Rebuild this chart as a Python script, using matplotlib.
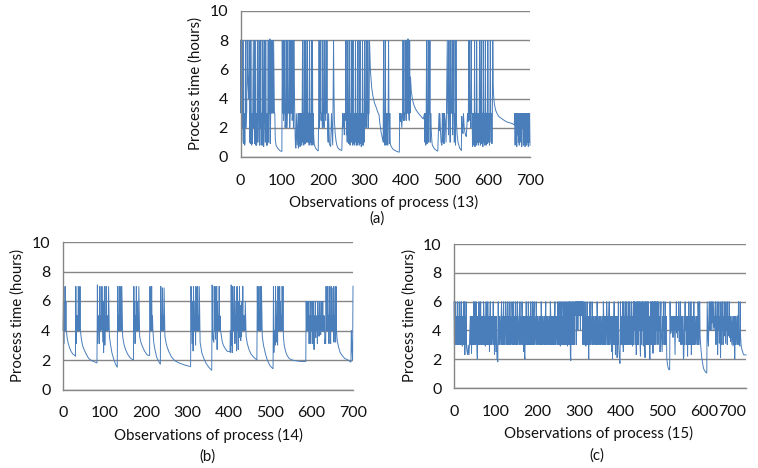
import matplotlib
matplotlib.use("Agg")
import matplotlib.pyplot as plt

plt.rcParams['font.family'] = ['Lato', 'DejaVu Sans']

# process (13), values
a_x = [0,1,2,3,4,5,6,7,8,9,
       10,11,12,13,14,15,16,17,18,20,
       21,22,23,24,25,26,27,28,29,31,
       32,33,34,35,36,37,38,39,40,41,
       42,43,44,45,46,47,48,49,50,51,
       52,53,54,55,56,57,58,59,60,61,
       62,63,64,65,66,67,68,69,70,71,
       72,73,74,75,76,77,78,79,80,82,
       83,84,85,86,88,90,93,96,100,101,
       102,103,104,105,106,107,108,109,110,111,
       112,113,114,115,116,117,118,119,120,121,
       122,123,124,125,126,127,128,129,130,131,
       132,133,134,135,137,139,140,141,142,143,
       144,145,146,147,148,149,150,151,152,153,
       154,155,156,157,158,159,160,161,162,163,
       164,165,166,167,168,169,170,171,172,173,
       174,175,176,177,178,179,181,183,186,188,
       189,190,191,192,193,194,195,196,197,198,
       199,200,201,202,203,204,205,206,207,208,
       209,210,211,212,213,215,218,220,223,225,
       226,227,229,231,233,236,240,245,247,248,
       250,251,252,253,254,255,256,257,258,259,
       260,261,262,263,264,265,266,267,268,269,
       270,271,272,273,274,275,276,277,278,279,
       280,281,282,283,284,285,286,287,288,289,
       290,291,292,293,294,295,296,297,298,299,
       300,301,302,303,304,305,306,307,308,309,
       310,311,312,314,317,320,324,328,333,335,
       337,340,343,345,346,347,348,349,350,351,
       352,353,354,355,356,357,358,359,360,361,
       362,363,365,367,370,373,377,381,384,385,
       387,388,390,392,393,394,395,396,397,398,
       399,400,401,402,403,404,405,406,407,408,
       409,410,411,413,416,420,425,430,436,442,
       445,446,447,448,449,450,451,452,453,454,
       455,456,457,458,459,460,461,462,463,464,
       466,468,471,474,477,480,481,482,484,485,
       487,488,489,490,491,492,493,495,497,498,
       500,501,502,503,504,505,506,507,508,509,
       510,511,512,513,514,515,516,517,518,520,
       521,522,524,526,528,530,533,534,535,536,
       538,539,541,544,546,549,550,551,552,553,
       554,555,556,557,558,559,560,561,562,563,
       564,565,566,567,568,569,570,571,572,573,
       574,575,576,577,578,579,580,581,582,583,
       584,585,586,587,588,589,590,591,592,593,
       594,595,596,597,598,599,600,601,602,603,
       604,605,606,607,608,609,610,611,612,614,
       617,620,624,628,633,638,644,650,656,662,
       663,664,665,666,667,668,669,670,671,672,
       673,674,675,676,677,678,679,680,681,682,
       683,684,685,686,687,688,689,690,691,692,
       693,694,695,696,697,698,699,700]
a_y = [8,3,8,1,3,2,8,3,0.9,3,
       0.8,1,8,2,3,3,8,6,5,4,
       8,1,3,0.9,8,3,0.8,3,0.9,8,
       2,3,0.9,8,3,0.8,3,0.8,3,8,
       1,3,3,8,0.8,3,2,8,0.8,3,
       3,0.8,8,3,0.7,3,8,3,1,8,
       3,0.8,3,0.8,3,8,1,3,3,8.1,
       0.9,3,8,3,3,8,3,3,8,3,
       3,1.3,1.0,0.8,0.7,0.6,0.5,0.42,0.38,8,
       3,8,2.5,3,3,8,2,3,3,8,
       2,3,8,3,3,3,8,2,3,8,
       3,3,8,2.5,3,8,2,8,5,3,
       1.5,0.7,0.6,3,0.8,3,0.6,3,0.9,3,
       0.7,3,0.9,3,0.8,3,8,1,3,0.8,
       8,3,0.9,0.9,8,3,1,2,8,1,
       3,3,0.8,8,3,1,3,0.8,8,3,
       8,0.8,3,1.5,1,0.8,0.65,0.55,0.45,0.42,
       3,8,2,3,3,8,2.5,3,3,2,
       8,3,3,2,8,3,3,2.5,8,3,
       8,3,1.5,1,3,0.9,0.7,3,0.8,8,
       4.5,2.5,1.6,1.1,0.8,0.6,0.5,0.45,3,2,
       3,1.5,3,2.5,3,8,1.5,3,1,8,
       3,3,0.9,8,3,0.8,3,2,8,1,
       3,0.8,8,0.9,3,0.8,3,1,8,3,
       0.8,3,0.8,3,8,1,3,0.8,3,8,
       0.9,3,0.7,3,0.8,8,3,0.8,3,1,
       8,2,3,3,8,2,3,3,8,2,
       3,3,8,6,4.8,4.2,3.7,3.4,3.0,2.9,
       2.3,1.7,1.3,1.0,8,1,3,0.8,8,3,
       0.8,3,1,3,0.8,3,8,3,0.9,3,
       1,0.8,0.7,0.6,0.5,0.45,0.4,0.35,0.33,3,
       2.4,3,2,3,8,2.5,3,3,2.5,8,
       3,3,2.5,8,3,3,8.1,3,3,2.5,
       8,3,5.5,4.5,3.9,3.5,3.2,3.0,2.8,2.6,
       3,1,3,0.8,3,8,0.9,3,3,8,
       1,3,3,8,1,3,2,1.4,1,0.8,
       0.7,0.6,0.5,0.45,0.4,3,1.8,3,1.5,1.0,
       0.8,3,2.4,1.0,3,0.9,3,2.5,1.0,3,
       8,3,3,1.5,8,3,3,1,8,3,
       3,3,8,1.5,3,3,8,1,3,0.8,
       8,2.5,1.5,1,0.8,0.6,0.5,0.45,2.8,2,
       1.6,3,2,1.5,1.4,3,2.4,3,8,2.5,
       8,3,3,2,8,3,3,0.7,3,0.8,
       3,1,8,0.7,3,3,0.8,8,3,1,
       3,0.8,3,1,8,3,0.8,3,8,0.9,
       3,3,0.7,8,3,1,3,0.8,8,3,
       0.8,3,3,0.9,8,3,1,3,0.8,3,
       8,3,1,3,0.9,3,8,5,4.2,3.6,
       3.2,3.0,2.8,2.7,2.6,2.5,2.4,2.35,2.3,2.2,
       3,0.8,3,1,3,0.7,3,1.5,3,1,
       3,0.8,3,1,3,2,3,0.7,3,2,
       3,0.8,3,1,3,0.7,3,2,3,0.8,
       3,1,3,0.7,3,1,3,0.8]

# process (14)
b_x = [0,1,2,3,4,5,6,7,8,10,
       12,15,19,24,29,30,31,32,33,34,
       35,36,37,38,39,40,41,42,44,47,
       51,56,62,70,78,82,83,84,85,86,
       87,88,89,90,91,92,93,94,95,96,
       97,98,99,100,101,102,103,104,105,106,
       107,108,109,110,112,115,118,122,127,131,
       132,133,134,135,136,137,138,139,140,141,
       142,144,147,151,156,162,169,170,171,172,
       173,174,175,176,177,178,179,180,181,182,
       183,185,188,192,197,203,209,210,211,212,
       213,214,215,216,217,219,222,226,231,235,
       236,237,238,239,240,241,242,243,244,246,
       250,255,262,270,280,295,308,309,310,311,
       312,313,314,315,316,317,318,319,320,321,
       322,323,324,325,326,327,328,329,331,335,
       340,345,352,359,360,361,362,364,365,366,
       367,368,369,370,371,372,373,374,375,376,
       377,378,379,380,382,384,387,391,396,403,
       404,405,406,407,408,409,410,411,412,413,
       414,415,416,417,418,419,420,421,422,423,
       424,425,426,427,428,429,430,431,432,433,
       434,435,436,437,438,439,440,442,445,449,
       454,460,468,469,470,471,472,473,474,475,
       476,477,478,479,481,484,488,493,500,507,
       508,509,510,511,512,513,514,515,516,517,
       518,519,520,521,522,523,524,525,526,527,
       528,529,530,531,532,534,537,541,546,553,
       562,574,586,587,588,589,590,591,592,593,
       594,595,596,597,598,599,600,601,602,603,
       604,605,606,607,608,609,610,611,612,613,
       614,615,616,617,618,619,620,621,622,623,
       624,625,626,627,628,629,630,631,632,633,
       634,635,636,637,638,639,640,641,642,643,
       644,645,646,647,648,649,650,651,652,653,
       654,655,656,657,658,659,660,662,665,669,
       674,680,688,695,696,697,698,699,700]
b_y = [4,6,3.1,6,4,7,4,6,4,3.5,
       3.2,2.9,2.6,2.4,2.3,2.25,7,3.1,5,4,
       5,4,7,4,5,4,7,4,3.5,3.0,
       2.7,2.4,2.1,1.95,1.85,1.8,7.1,3.1,5,4,
       5,3.1,7,4,5,4,4.5,7,5,3.2,
       6,2.5,4,7,3,5,4,7,4,5,
       4,5,4,7,3.6,3.0,2.5,2.1,1.7,1.5,
       7,4,5,4,7,4,5,4,7,4,
       7,3.6,3.1,2.7,2.4,2.15,2.0,2.0,7,4,
       6,3.1,5,4,7,4,6,4,5,4,
       7,3.6,3.2,2.9,2.6,2.35,2.3,7,4,5,
       4,7,4,5,4,3.2,2.7,2.2,1.9,1.7,
       7,4,5,4,6.9,4,5,4,6.9,3.6,
       3.0,2.6,2.2,1.95,1.8,1.65,1.55,7,4,5,
       3.1,6,2.6,7,4,5,4,6,3,7,
       4,5,4,7,4,5,4,7,3.2,2.5,
       2.1,1.8,1.5,1.3,7.1,4,3.4,3.2,7,4,
       7,3.4,5,4,7,2.7,6,4,5,4,
       7,4,5,4,3.7,3.3,3.0,2.8,2.6,2.55,
       4,2.5,7.1,3,5,2.5,7,4,5,4,
       7,3.1,5,4,6,2.6,7,4,5,2.7,
       6,3.5,7,4,5.7,3.3,5,3.6,6,4,
       7,4,5,4,5,4,6,3.6,3.1,2.7,
       2.4,2.2,2.0,7,4,5,4,7,4,5,
       4,7,4,7,3.6,3.0,2.5,2.0,1.6,1.4,
       7,2.5,4,4,3,7,4,5,3.2,6,
       3,7,4,5,4,7,4,6,4,5,
       4,7,4,7,3.6,3.0,2.6,2.3,2.1,2.0,
       1.95,1.9,1.9,6,4,6,4,5,4,6,
       3.1,5,4,6,3.1,5,4,6,5,3.1,
       6,4,2.7,5,4,6,3.5,5,4,5,
       3.1,6,4,5,3.6,6,4,5,3.7,6,
       4,5,4,6,3.9,5,4,5,3.1,3.4,
       3.1,7,4,5,4,7,4,5,3.1,7,
       4,5,3.1,7,4,6.9,4,5,4,7,
       3.2,5,4,7,3.2,7,4,3.3,2.9,2.5,
       2.3,2.1,2.0,1.85,4,3,2.5,2.0,7]

# process (15), one value per observation
c_y = [6,3,5,3,6,4,3,5,3,6,
       3,5,4,3,6,3,5,3,6,4,
       2.9,5,3,6,3,6,2.3,5,3,6,
       2.8,2.6,2.4,2.3,3,2.6,2.3,3,4,5,
       3,5,2.4,5,3,5,3,6,4,3,
       6,5,3,6,5,2.6,2,5,3,5,
       6,4,3,5,6,3,5,4,3,5,
       3,6,5,3,5,2.9,4,6,3,5,
       3,6,4,3,5,2.5,5,6,3,5,
       3,5,4,3,6,3,5,2.3,5,3,
       5,2.5,5,2,2.0,1.8,6,3,5,3,
       5,4,3,5,6,3,5,3,5,6,
       3,5,4,3,6,5,3,5,3,6,
       4,3,5,3,6,3,5,4,3,6,
       5,3,5,6,3,5,3,4,6,3,
       5,3,6,5,3,4,5,3,6,3,
       5,4,3,6,5,3,5,2.5,5,2.3,
       2,5,3,6,4,3,5,3,6,5,
       3,5,4,3,6,3,5,3,6,4,
       3,5,6,3,5,4,3,6,5,3,
       5,3,5,4,3,5,3,5,3,6,
       5,3,5,3,5,4,3,5,3,5,
       6,3,5,3,5,3,4,5,3,5,
       3,6,5,3,5,3,5,4,3,5,
       3,5,6,3,5,3,4,5,3,6,
       3,5,6,3,5,2.9,6,3,5,6,
       3,5,3,6,4,3,6,5,3,6,
       3,5,2.9,6,3,5,6,3,6,2.3,
       1.9,6,3,5,6,3,5,6,3,5,
       6,5,6,3,6,5,6,4,6,5,
       6,5,6,4,6,5,6,5,6,3,
       6,3,5,3,6,4,2.9,5,3,6,
       3,5,4,2,5,3,6,3,5,4,
       3,6,5,3,5,3,5,4,3,5,
       3,5,3,6,5,3,5,4,3,5,
       3,5,3,5,4,3,5,3,6,5,
       3,5,3,5,4,3,6,5,3,5,
       3,5,6,3,5,4,3,5,2.5,5,
       2,5,3,5,6,3,5,2.3,5,3,
       5,2.1,5,3,6,2.8,2.3,1.9,1.7,6,
       3,5,4,3,6,3,2.5,6,3,5,
       4,6,3,5,6,3,5,4,6,3,
       5,6,3,5,4,6,3,5,2.9,5,
       6,3,6,4,6,3,5,2.3,6,3,
       6,5,3,6,4,6,3,2.2,6,5,
       3,6,4,6,2.9,5,6,3,2.1,6,
       3,6,5,3,6,4,6,3,5,2,
       2.0,6,5,3,6,4,6,2.4,5,6,
       3,6,4,6,3,5,6,4,6,3,
       5,6,4,5,2.5,5,6,3.8,3.1,2.5,
       5,3,6,4,5,3,6,5,3,5,
       2.1,1.8,1.6,1.45,1.35,1.3,1.25,1.3,6,3.8,
       5,4,5,3.8,5,3.5,5,4,5,3.8,
       2.3,5,4,6,3.8,5,3.5,5,4,6,
       3.2,5,4,6,3,5,4,3,5,4,
       2,2.2,5,3,6,4,5,3,5,4,
       2.2,5,3,6,3,5,4,3,6,2.3,
       5,3,5,4,3,6,3,5,4,3,
       5,4,3,5,3,6,5,3,5,6,
       3.6,3.1,2.7,2.4,2.1,1.9,1.7,1.55,1.4,1.3,
       1.25,1.2,1.15,1.1,1.1,1.05,1.05,6,4.5,3.3,
       2.9,5,6,4,5,6,4,6,4.5,5,
       6,4,5,6,4.2,5,4,6,3,5,
       4,6,2.3,5,4,6,3.1,5,4,2.1,
       6,3,5,4,6,3,5,4,6,3.6,
       5,3.1,6,4,5,3,6,4,5,3.6,
       6,3.5,5,3.2,5,4,3,5,4,2.9,
       5,3,5,2,5,3,5,4,3,5,
       5,3,6,3.5,3.1,2.9,6,3.6,3.1,2.8,
       2.7,2.6,2.5,2.4,2.35,2.3,2.3,2.3,2.3,2.3,
       2.3]
c_x = list(range(len(c_y)))

tick_x = [0, 100, 200, 300, 400, 500, 600, 700]
tick_y = [0, 2, 4, 6, 8, 10]

W, H = 758, 468


def draw(box, xs, ys, xlabel, xlabel_pos, caption, caption_pos, ylabel_x):
    # box is left, right, y of 0, y of 10 in pixels of the picture
    ax = fig.add_axes([box[0]/W, 1-box[2]/H, (box[1]-box[0])/W, (box[2]-box[3])/H])
    ax.plot(xs, ys, color='#4a7ebb', lw=0.7, solid_joinstyle='miter', clip_on=False)
    ax.set_xlim(0, 700)
    ax.set_ylim(0, 10)
    ax.set_xticks(tick_x)
    ax.set_yticks(tick_y)
    ax.grid(axis='y', color='#868686', lw=1)
    ax.set_axisbelow(True)
    ax.tick_params(length=0, labelsize=11.5, colors='#111111')
    ax.tick_params(axis='x', pad=12)
    ax.tick_params(axis='y', pad=9)
    for s in ['top', 'right']:
        ax.spines[s].set_visible(False)
    for s in ['left', 'bottom']:
        ax.spines[s].set_color('#868686')
        ax.spines[s].set_linewidth(1)
    fig.text(xlabel_pos[0]/W, 1-xlabel_pos[1]/H, xlabel, ha='center', va='center', fontsize=10.8, color='#111111')
    fig.text(caption_pos[0]/W, 1-caption_pos[1]/H, caption, ha='center', va='center', fontsize=10.8, color='#111111')
    fig.text(ylabel_x/W, 1-(box[2]+box[3])/2/H, 'Process time (hours)', rotation=90, ha='center', va='center',
             fontsize=10.8, color='#111111')
    return ax


fig = plt.figure(figsize=(W/100, H/100), dpi=100)
draw((240.5, 530, 157, 11), a_x, a_y, 'Observations of process (13)', (384, 202), '(a)', (377, 219), 196)
draw((63, 353, 389.5, 242), b_x, b_y, 'Observations of process (14)', (208, 435), '(b)', (207, 457), 18)
ax_c = draw((454, 746, 388, 244), c_x, c_y, 'Observations of process (15)', (599, 433), '(c)', (597, 456), 410)
# last label of (c) sits inside the picture edge
ax_c.get_xticklabels()[-1].set_ha('right')
print(len(c_y))
fig.savefig('out.png', dpi=100)
